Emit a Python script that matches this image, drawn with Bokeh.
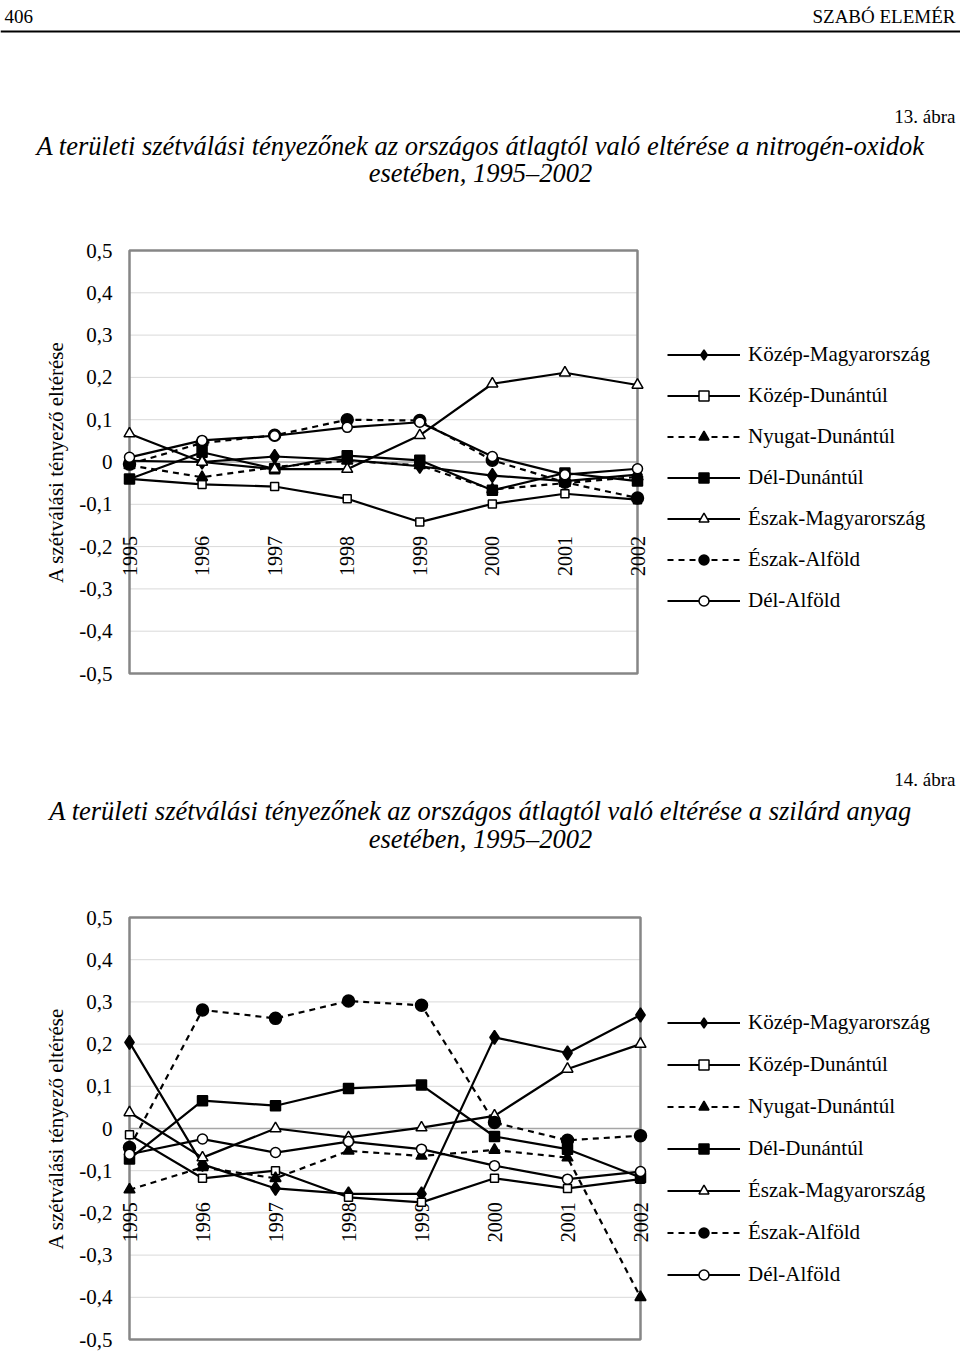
import numpy as np
from bokeh.plotting import figure
from bokeh.models import Range1d, FixedTicker, Legend, LegendItem, ColumnDataSource
from bokeh.layouts import column, row
from bokeh.embed import file_html
from bokeh.resources import INLINE
from bokeh.core.properties import value

# ---------------- data ----------------
years = [1995, 1996, 1997, 1998, 1999, 2000, 2001, 2002]
year_labels = [str(y) for y in years]
regions = ["Közép-Magyarország", "Közép-Dunántúl", "Nyugat-Dunántúl", "Dél-Dunántúl",
           "Észak-Magyarország", "Észak-Alföld", "Dél-Alföld"]

# 13. ábra – nitrogén-oxidok
nox_kozep_magyarorszag = [0.003, 0.000, 0.013, 0.005, -0.010, -0.032, -0.045, -0.030]
nox_kozep_dunantul     = [-0.040, -0.053, -0.058, -0.087, -0.142, -0.099, -0.075, -0.089]
nox_nyugat_dunantul    = [-0.008, -0.036, -0.012, 0.003, -0.008, -0.065, -0.050, -0.035]
nox_del_dunantul       = [-0.040, 0.023, -0.016, 0.015, 0.004, -0.067, -0.026, -0.045]
nox_eszak_magyarorszag = [0.067, 0.000, -0.017, -0.017, 0.063, 0.185, 0.211, 0.182]
nox_eszak_alfold       = [-0.005, 0.045, 0.063, 0.100, 0.098, 0.004, -0.048, -0.085]
nox_del_alfold         = [0.011, 0.051, 0.062, 0.082, 0.094, 0.013, -0.030, -0.016]

# 14. ábra – szilárd anyag
sol_kozep_magyarorszag = [0.204, -0.085, -0.142, -0.155, -0.155, 0.216, 0.179, 0.269]
sol_kozep_dunantul     = [-0.015, -0.118, -0.100, -0.163, -0.175, -0.118, -0.142, -0.120]
sol_nyugat_dunantul    = [-0.145, -0.092, -0.118, -0.053, -0.065, -0.051, -0.069, -0.400]
sol_del_dunantul       = [-0.072, 0.066, 0.054, 0.095, 0.103, -0.019, -0.049, -0.116]
sol_eszak_magyarorszag = [0.038, -0.069, 0.000, -0.021, 0.002, 0.030, 0.141, 0.200]
sol_eszak_alfold       = [-0.045, 0.281, 0.261, 0.302, 0.292, 0.014, -0.028, -0.017]
sol_del_alfold         = [-0.061, -0.025, -0.057, -0.031, -0.049, -0.088, -0.120, -0.102]

y_ticks = [-0.5, -0.4, -0.3, -0.2, -0.1, 0.0, 0.1, 0.2, 0.3, 0.4, 0.5]
y_tick_labels = ["-0,5", "-0,4", "-0,3", "-0,2", "-0,1", "0", "0,1", "0,2", "0,3", "0,4", "0,5"]

nox_series = [nox_kozep_magyarorszag, nox_kozep_dunantul, nox_nyugat_dunantul, nox_del_dunantul,
              nox_eszak_magyarorszag, nox_eszak_alfold, nox_del_alfold]
sol_series = [sol_kozep_magyarorszag, sol_kozep_dunantul, sol_nyugat_dunantul, sol_del_dunantul,
              sol_eszak_magyarorszag, sol_eszak_alfold, sol_del_alfold]

# ---------------- styles ----------------
FONT = "Liberation Serif"
W = 960
FRAME_RIGHT = 955
ITEM_H = 25
# marker, fill, dash, size
STYLES = [
    ("diamond", "black", "solid", 14),
    ("square", "white", "solid", 8),
    ("triangle", "black", "6 5", 11),
    ("square", "black", "solid", 10),
    ("triangle", "white", "solid", 11),
    ("circle", "black", "6 5", 12),
    ("circle", "white", "solid", 10),
]
LABEL_Y = -0.175


def text_fig(h):
    p = figure(width=W, height=h, x_range=Range1d(0, W), y_range=Range1d(h, 0),
               output_backend="svg", toolbar_location=None, x_axis_type=None,
               y_axis_type=None, min_border=0)
    p.outline_line_color = None
    p.grid.visible = False
    return p


def chart(series, h, box_l, box_r, box_t, box_b, leg_first_center, leg_spacing):
    # box_* in figure pixel coordinates
    pad_x, pad_y = 14, 4
    px_per_year = (box_r - box_l) / (years[-1] - years[0])
    px_per_unit = (box_b - box_t) / (y_ticks[-1] - y_ticks[0])
    dx0 = pad_x / px_per_year
    dx1 = (FRAME_RIGHT - box_r) / px_per_year
    dy = pad_y / px_per_unit
    frame_l = box_l - pad_x
    frame_b = box_b + pad_y
    p = figure(width=W, height=h,
               x_range=Range1d(years[0] - dx0, years[-1] + dx1),
               y_range=Range1d(y_ticks[0] - dy, y_ticks[-1] + dy),
               output_backend="svg", toolbar_location=None, x_axis_type=None,
               min_border_left=frame_l, min_border_right=W - FRAME_RIGHT,
               min_border_top=box_t - pad_y, min_border_bottom=h - frame_b)
    p.outline_line_color = None
    p.grid.visible = False
    p.background_fill_color = "white"
    p.border_fill_color = "white"

    ax = p.yaxis[0]
    ax.ticker = FixedTicker(ticks=y_ticks)
    ax.major_label_overrides = {t: l for t, l in zip(y_ticks, y_tick_labels)}
    ax.axis_line_color = None
    ax.major_tick_line_color = None
    ax.minor_tick_line_color = None
    ax.major_tick_out = 0
    ax.major_tick_in = 0
    ax.major_label_standoff = 3
    ax.major_label_text_font = FONT
    ax.major_label_text_font_size = "21px"
    ax.major_label_text_color = "black"
    ax.axis_label = "A szétválási tényező eltérése"
    ax.axis_label_text_font = FONT
    ax.axis_label_text_font_size = "21px"
    ax.axis_label_text_font_style = "normal"
    ax.axis_label_text_color = "black"
    ax.axis_label_standoff = 8

    inner = y_ticks[1:-1]
    gsrc = ColumnDataSource(dict(
        x0=[years[0]] * len(inner), x1=[years[-1]] * len(inner), y=inner,
        c=["#a6a6a6" if t == 0 else "#d9d9d9" for t in inner],
        w=[1.5 if t == 0 else 1.0 for t in inner]))
    p.segment(x0="x0", x1="x1", y0="y", y1="y", line_color="c", line_width="w", source=gsrc)
    p.quad(left=[years[0]], right=[years[-1]], bottom=[y_ticks[0]], top=[y_ticks[-1]],
           fill_color=None, line_color="#868686", line_width=2.5)

    p.text(x=years, y=[LABEL_Y] * len(years), text=year_labels, angle=np.pi / 2,
           text_align="right", text_baseline="middle", text_font=value(FONT),
           text_font_size="20px", text_color="black")

    items = []
    for name, vals, (mk, fill, dash, size) in zip(regions, series, STYLES):
        lr = p.line(years, vals, line_color="black", line_width=2.2, line_dash=dash)
        sr = p.scatter(years, vals, marker=mk, size=size, fill_color=fill,
                       line_color="black", line_width=1.5)
        items.append(LegendItem(label=name, renderers=[lr, sr]))

    n = len(items)
    leg_h = n * ITEM_H + (n - 1) * leg_spacing
    leg_top = leg_first_center - ITEM_H / 2
    leg = Legend(items=items, location=(667 - frame_l, round(frame_b - (leg_top + leg_h))))
    leg.border_line_color = None
    leg.background_fill_alpha = 0
    leg.padding = 0
    leg.margin = 0
    leg.glyph_width = 73
    leg.glyph_height = ITEM_H
    leg.label_height = ITEM_H
    leg.spacing = leg_spacing
    leg.label_standoff = 8
    leg.label_text_font = FONT
    leg.label_text_font_size = "21px"
    leg.label_text_color = "black"
    p.add_layout(leg)
    return p


# ---------------- header + title 13 ----------------
hA = 230  # page y 0..230
pA = text_fig(hA)
pA.text(x=[4], y=[16], text=["406"], text_align="left", text_baseline="middle",
        text_font=value(FONT), text_font_size="19px", text_color="black")
pA.text(x=[955], y=[16], text=["SZABÓ ELEMÉR"], text_align="right", text_baseline="middle",
        text_font=value(FONT), text_font_size="19px", text_color="black")
pA.segment(x0=[0], x1=[W], y0=[31], y1=[31], line_color="black", line_width=2)
pA.text(x=[955], y=[116], text=["13. ábra"], text_align="right", text_baseline="middle",
        text_font=value(FONT), text_font_size="19px", text_color="black")
pA.text(x=[480, 480], y=[145, 172],
        text=["A területi szétválási tényezőnek az országos átlagtól való eltérése a nitrogén-oxidok",
              "esetében, 1995–2002"],
        text_align="center", text_baseline="middle", text_font=value(FONT),
        text_font_style="italic", text_font_size="26.5px", text_color="black")

# ---------------- chart 13 ----------------
hC1 = 470  # page y 230..700
pC1 = chart(nox_series, hC1, box_l=129, box_r=637, box_t=20, box_b=443,
            leg_first_center=355 - 230, leg_spacing=16)

# ---------------- title 14 ----------------
hB = 195  # page y 700..895
pB = text_fig(hB)
pB.text(x=[955], y=[79], text=["14. ábra"], text_align="right", text_baseline="middle",
        text_font=value(FONT), text_font_size="19px", text_color="black")
pB.text(x=[480, 480], y=[110, 138],
        text=["A területi szétválási tényezőnek az országos átlagtól való eltérése a szilárd anyag",
              "esetében, 1995–2002"],
        text_align="center", text_baseline="middle", text_font=value(FONT),
        text_font_style="italic", text_font_size="26.5px", text_color="black")

# ---------------- chart 14 ----------------
hC2 = 457  # page y 895..1352
pC2 = chart(sol_series, hC2, box_l=129, box_r=640, box_t=22, box_b=444,
            leg_first_center=1022 - 895, leg_spacing=17)

layout = column(row(pA), row(pC1), row(pB), row(pC2), spacing=0)
open("out.html", "w").write(file_html(layout, INLINE))
